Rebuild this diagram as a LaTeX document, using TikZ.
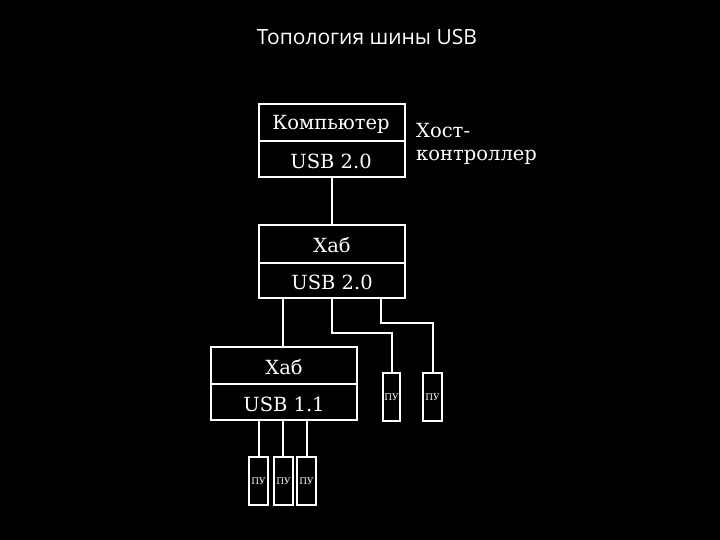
\documentclass[tikz,border=0pt]{standalone}
\usepackage{fontspec}
\setmainfont{DejaVu Serif}
\newfontfamily\titlefont{Open Sans}
\begin{document}
\begin{tikzpicture}[x=1pt,y=-1pt,
  wl/.style={draw=white,line width=1.8pt},
  lbl/.style={text=white,font=\fontsize{19.5}{19.5}\selectfont},
  pu/.style={wl,text=white,inner sep=0,font=\fontsize{9}{9}\selectfont}]
\fill[black] (0,0) rectangle (720,540);
\useasboundingbox (0,0) rectangle (720,540);
\node[text=white,font=\titlefont\fontsize{21}{21}\selectfont] (title) at (367,37) {Топология шины USB};
% computer
\draw[wl] (259,104) rectangle (405,177); \draw[wl] (259,141)--(405,141);
\node[lbl] (c1) at (331,124) {Компьютер};
\node[lbl] (c2) at (331,161) {USB 2.0};
\node[lbl,anchor=west,inner sep=0] (c3) at (416,131) {Хост-};
\node[lbl,anchor=west,inner sep=0] (host) at (416,157) {контроллер};
% hub1
\draw[wl] (259,225) rectangle (405,298); \draw[wl] (259,263)--(405,263);
\node[lbl] (h1) at (332,245) {Хаб};
\node[lbl] (h1u) at (332,282) {USB 2.0};
% hub2
\draw[wl] (211,347) rectangle (357,420); \draw[wl] (211,384)--(357,384);
\node[lbl] (h2) at (284,367) {Хаб};
\node[lbl] (h2u) at (284,404) {USB 1.1};
% PU boxes
\draw[wl] (383,373) rectangle (400,421); \node[pu,draw=none] (p1) at (391.5,397) {ПУ};
\draw[wl] (423,373) rectangle (442,421); \node[pu,draw=none] (p2) at (432.5,397) {ПУ};
\foreach \x/\n in {249/a,274/b,297/c}{
  \draw[wl] (\x,457) rectangle (\x+19,505);
  \node[pu,draw=none] (q\n) at (\x+9.5,481) {ПУ};}
% connectors
\draw[wl] (332,177)--(332,225);
\draw[wl] (283,298)--(283,347);
\draw[wl] (332,298)--(332,333)--(392,333)--(392,373);
\draw[wl] (381,298)--(381,323)--(433,323)--(433,373);
\foreach \x in {259,283,307} \draw[wl] (\x,420)--(\x,457);
\end{tikzpicture}
\end{document}
